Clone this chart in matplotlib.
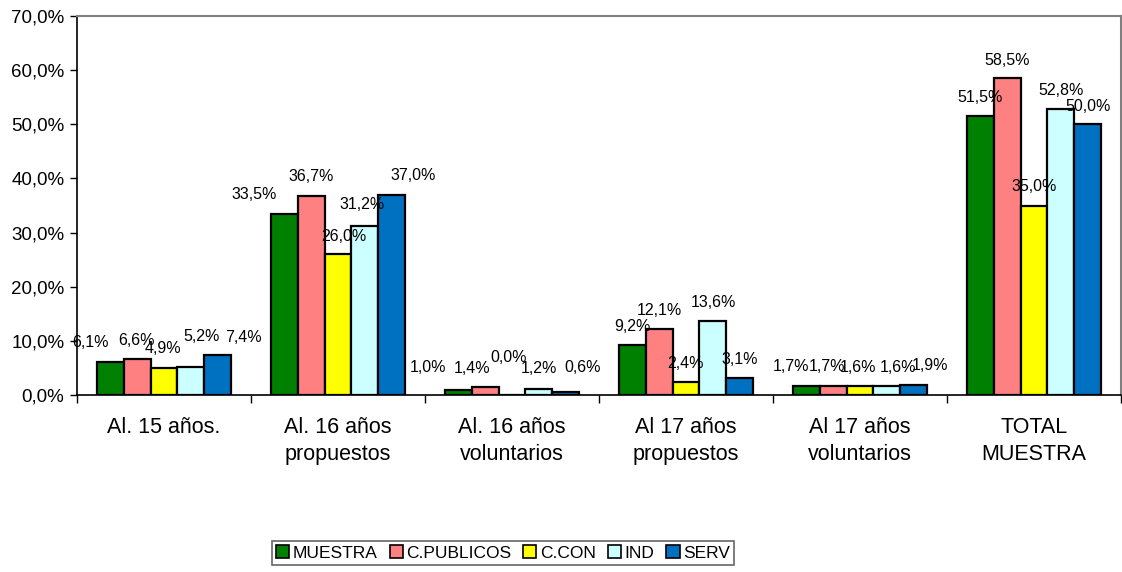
import numpy as np
import matplotlib
matplotlib.use("Agg")
import matplotlib.pyplot as plt

plt.rcParams['font.family'] = ['Liberation Sans', 'DejaVu Sans']

# data
categories = ["Al. 15 años.", "Al. 16 años\npropuestos", "Al. 16 años\nvoluntarios",
              "Al 17 años\npropuestos", "Al 17 años\nvoluntarios", "TOTAL\nMUESTRA"]
series_names = ["MUESTRA", "C.PUBLICOS", "C.CON", "IND", "SERV"]
muestra = [6.1, 33.5, 1.0, 9.2, 1.7, 51.5]
publicos = [6.6, 36.7, 1.4, 12.1, 1.7, 58.5]
ccon = [4.9, 26.0, 0.0, 2.4, 1.6, 35.0]
ind = [5.2, 31.2, 1.2, 13.6, 1.6, 52.8]
serv = [7.4, 37.0, 0.6, 3.1, 1.9, 50.0]
y_ticks = [0, 10, 20, 30, 40, 50, 60, 70]

series = [muestra, publicos, ccon, ind, serv]
colors = ["#008000", "#FF8080", "#FFFF00", "#CCFFFF", "#0070C0"]

# label shifts in pixels (rows = categories, cols = series), like Excel placed them
label_dx = [[-20, -1, -1, 11, 25],
            [-30, 0, 6, -3, 21],
            [-30, -13, -3, 0, 17],
            [0, 0, 0, 0, 0],
            [-15, -6, -2, 11, 16],
            [0, 0, 0, 0, 0]]
label_dy = [[19, 19, 20, 30, 17],
            [19, 20, 18, 22, 19],
            [22, 19, 37, 20, 24],
            [19, 19, 19, 19, 19],
            [19, 19, 19, 19, 19],
            [19, 18, 19, 19, 18]]

fig = plt.figure(figsize=(11.22, 5.72), dpi=100)
ax = fig.add_axes([77 / 1122, 1 - 395 / 572, 1044 / 1122, 379 / 572])

x = np.arange(len(categories))
w = 0.155
for i, (vals, c) in enumerate(zip(series, colors)):
    pos = x + (i - 2) * w
    ax.bar(pos, vals, width=w, color=c, edgecolor="black", linewidth=1.6,
           label=series_names[i], zorder=2)
    for j, (px, v) in enumerate(zip(pos, vals)):
        ax.annotate(f"{v:.1f}%".replace(".", ","), (px, v),
                    xytext=(label_dx[j][i] * 0.72, label_dy[j][i] * 0.72),
                    textcoords="offset points",
                    ha="center", va="center", fontsize=11.5, zorder=3)

ax.set_xlim(-0.5, len(categories) - 0.5)
ax.set_ylim(0, 70)
ax.set_yticks(y_ticks)
ax.set_yticklabels([f"{t:.1f}%".replace(".", ",") for t in y_ticks], fontsize=13.5)

ax.set_xticks(np.arange(len(categories) + 1) - 0.5)
ax.set_xticklabels([])
ax.set_xticks(x, minor=True)
ax.set_xticklabels(categories, minor=True, fontsize=15.5, linespacing=1.38)
ax.tick_params(axis="x", which="minor", length=0, pad=16)
ax.tick_params(axis="x", which="major", length=6, width=1)
ax.tick_params(axis="y", length=5, width=1, pad=4)

ax.spines["left"].set_color("black")
ax.spines["bottom"].set_color("black")
ax.spines["left"].set_linewidth(1.2)
ax.spines["bottom"].set_linewidth(1.2)
ax.spines["top"].set_color("#808080")
ax.spines["right"].set_color("#808080")
ax.spines["top"].set_linewidth(1.5)
ax.spines["right"].set_linewidth(1.5)

leg = fig.legend(loc="center", bbox_to_anchor=(503 / 1122, 1 - 553 / 572), ncol=5,
                 fontsize=12.5, frameon=True, fancybox=False, handlelength=0.75,
                 handleheight=0.75, handletextpad=0.2, columnspacing=0.7,
                 borderpad=0.25, borderaxespad=0)
leg.get_frame().set_edgecolor("#404040")
leg.get_frame().set_linewidth(1.2)
for h in leg.legend_handles:
    h.set_linewidth(1.2)

fig.savefig("out.png", dpi=100)
